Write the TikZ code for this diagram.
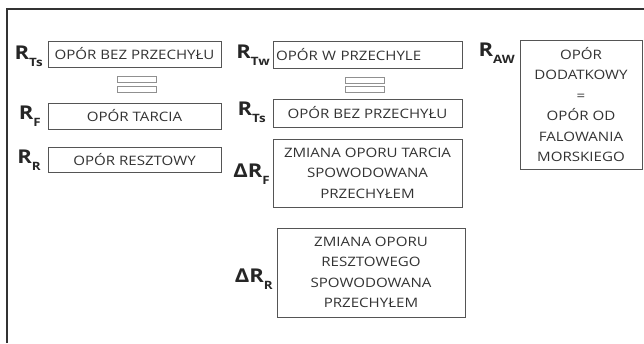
\documentclass[tikz,border=0pt]{standalone}
\usepackage{fontspec}
\setmainfont[FakeStretch=1.16]{Open Sans}
\usetikzlibrary{positioning}

\definecolor{txtgray}{HTML}{333333}
\definecolor{boxgray}{HTML}{555555}

\tikzset{
  textbox/.style={draw=boxgray, line width=0.9pt, text=txtgray, align=center,
    inner sep=0pt, font=\fontsize{13}{20.5}\selectfont},
  eqbar/.style={draw=boxgray!65, line width=1pt, minimum width=39pt,
    minimum height=6pt, inner sep=0pt},
  symlabel/.style={anchor=base east, inner sep=0pt, text=black!85},
}
\newcommand{\rsym}[2]{{\fontsize{19}{19}\selectfont\bfseries #1}%
  \raisebox{-7pt}{\fontsize{11.5}{11.5}\selectfont\bfseries #2}}

\begin{document}
\begin{tikzpicture}[x=1pt, y=-1pt]
    \useasboundingbox (0,0) rectangle (644,343);

    % frame
    \draw[line width=1.6pt, black!80] (7,343) -- (7,9) -- (644,9);

    % left column
    \node[textbox, minimum width=173pt, minimum height=26pt] (bezL) at (134.5,54) {OPÓR BEZ PRZECHYŁU};
    \node[eqbar] (eqLtop) at (136.5,79.5) {};
    \node[eqbar] (eqLbot) at (136.5,89.5) {};
    \node[textbox, minimum width=173pt, minimum height=26pt] (tarcia) at (134.5,116) {OPÓR TARCIA};
    \node[textbox, minimum width=173pt, minimum height=25pt] (reszt) at (134.5,159.5) {OPÓR RESZTOWY};

    \node[symlabel] (lTsL) at (43,59) {\rsym{R}{Ts}};
    \node[symlabel] (lF) at (41,119) {\rsym{R}{F}};
    \node[symlabel] (lR) at (41,163) {\rsym{R}{R}};

    % middle column
    \node[textbox, minimum height=27pt, text width=183pt, align=left, inner xsep=3pt] (przech) at (367.5,54.5) {OPÓR W PRZECHYLE};
    \node[eqbar] (eqMtop) at (365,80) {};
    \node[eqbar] (eqMbot) at (365,89.5) {};
    \node[textbox, minimum width=189pt, minimum height=28pt] (bezM) at (367.5,113) {OPÓR BEZ PRZECHYŁU};
    \node[textbox, minimum width=189pt, minimum height=68pt] (dF) at (367.5,173) {ZMIANA OPORU TARCIA\\SPOWODOWANA\\PRZECHYŁEM};
    \node[textbox, minimum width=188pt, minimum height=89pt] (dR) at (371,272.5) {ZMIANA OPORU\\RESZTOWEGO\\SPOWODOWANA\\PRZECHYŁEM};

    \node[symlabel] (lTw) at (270,58) {\rsym{R}{Tw}};
    \node[symlabel] (lTsM) at (266,115) {\rsym{R}{Ts}};
    \node[symlabel] (ldF) at (270,177) {\rsym{ΔR}{F}};
    \node[symlabel] (ldR) at (273,282) {\rsym{ΔR}{R}};

    % right column
    \node[textbox, minimum width=122pt, minimum height=129pt] (aw) at (581,104.5) {OPÓR\\DODATKOWY\\=\\OPÓR OD\\FALOWANIA\\MORSKIEGO};
    \node[symlabel] (lAW) at (515,56) {\rsym{R}{AW}};
\end{tikzpicture}
\end{document}
